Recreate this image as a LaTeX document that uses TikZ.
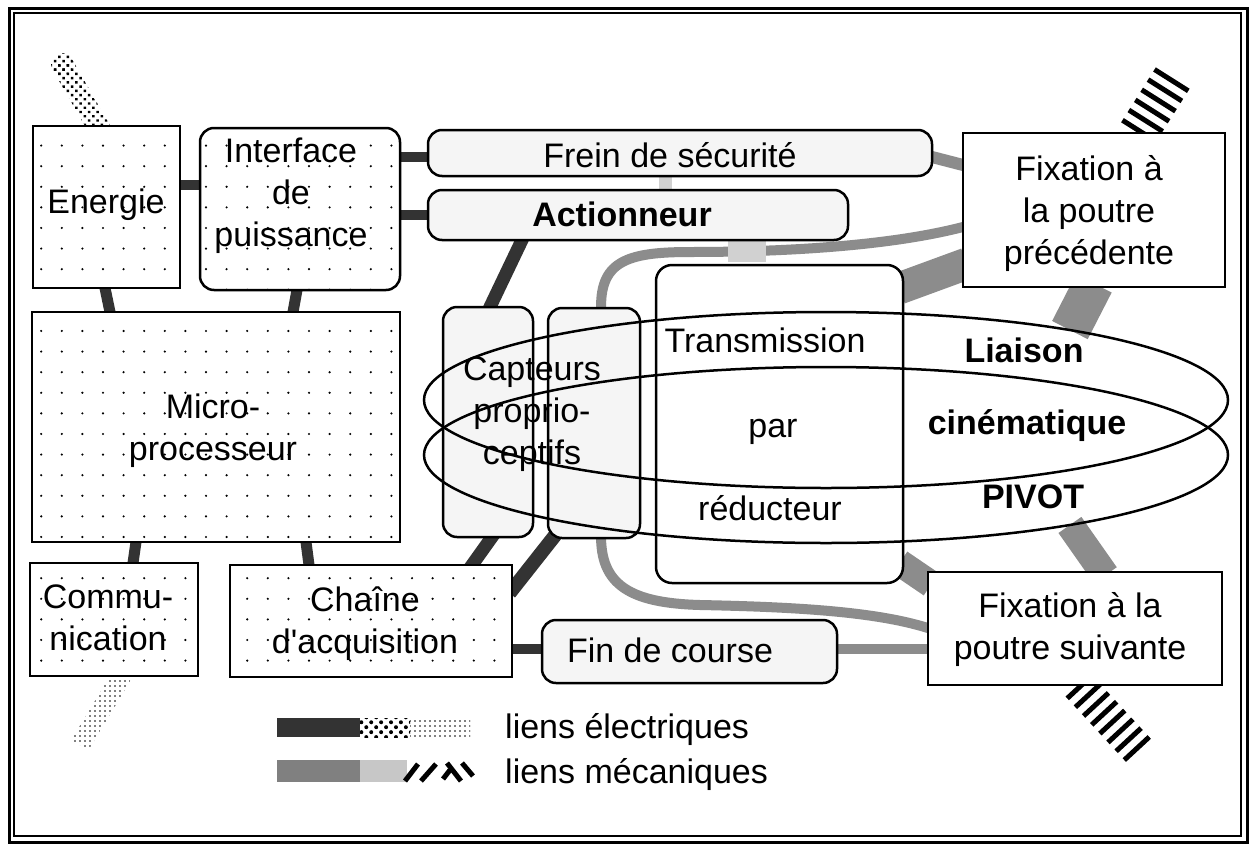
\documentclass[tikz,border=0pt]{standalone}
\usepackage{fontspec}
\setmainfont{Liberation Sans}
\usetikzlibrary{calc,shapes.geometric,patterns.meta,backgrounds}
\newcommand{\bandfill}[4]{\fill[#4] ($(#1)!#3!90:(#2)$) -- ($(#2)!#3!-90:(#1)$) -- ($(#2)!#3!90:(#1)$) -- ($(#1)!#3!-90:(#2)$) -- cycle;}
\begin{document}
\begin{tikzpicture}[x=1pt,y=-1pt,
  sqbox/.style={draw, line width=2.5pt, inner sep=0pt, outer sep=0pt, preaction={fill=white}, pattern={Dots[distance=20.6pt,radius=1.2pt]}},
  lbox/.style={draw, line width=2.5pt, rounded corners=14pt, fill=black!4, inner sep=0pt, outer sep=0pt},
  fbox/.style={draw, line width=2.5pt, fill=white, inner sep=0pt, outer sep=0pt},
  txt/.style={font=\fontsize{34}{42}\selectfont, align=center, inner sep=0pt},
  btxt/.style={txt, font=\fontsize{34}{42}\selectfont\bfseries},
  elec/.style={line width=11pt, black!80, shorten <=-4pt, shorten >=-4pt},
  mech/.style={line width=10pt, black!45, shorten <=-4pt, shorten >=-4pt},
  lite/.style={black!18},
  stripes/.style={dash pattern=on 5pt off 7pt, black},
  ell/.style={ellipse, draw, line width=2.5pt, minimum width=804pt, minimum height=176pt, inner sep=0pt, outer sep=0pt}]
\useasboundingbox (0,0) rectangle (1252,846);
% frame
\draw[line width=3pt] (9,8) rectangle (1247,842);
\draw[line width=1.5pt] (14,13) rectangle (1241,836);

% boxes
\node[sqbox, minimum width=147pt, minimum height=162pt] (energie) at (106.5,207) {};
\node[sqbox, rounded corners=14pt, minimum width=200pt, minimum height=162pt] (iface) at (300,209) {};
\node[lbox, minimum width=504pt, minimum height=46pt] (frein) at (680,153) {};
\node[lbox, minimum width=420pt, minimum height=50pt] (act) at (638,215) {};
\node[fbox, minimum width=262pt, minimum height=154pt] (fixp) at (1094,210) {};
\node[sqbox, minimum width=368pt, minimum height=230pt] (micro) at (216,427) {};
\node[lbox, minimum width=90pt, minimum height=230pt] (capt1) at (488,422) {};
\node[lbox, minimum width=92pt, minimum height=230pt] (capt2) at (594,423) {};
\node[fbox, rounded corners=16pt, minimum width=247pt, minimum height=318pt] (trans) at (779.5,424) {};
\node[sqbox, minimum width=168pt, minimum height=113pt] (comm) at (114,619.5) {};
\node[sqbox, minimum width=282pt, minimum height=112pt] (chaine) at (371,621) {};
\node[lbox, minimum width=295pt, minimum height=63pt] (fin) at (689.5,651.5) {};
\node[fbox, minimum width=294pt, minimum height=113pt] (fixs) at (1075,628.5) {};

% ellipses (liaison pivot)
\node[ell] (ellA) at (826,400) {};
\node[ell] (ellB) at (826,455) {};

% links
\begin{pgfonlayer}{background}
\fill[white] (0,0) rectangle (1252,846);
% electrical
\draw[elec, line width=10pt] (energie.east |- 0,185) -- (iface.west |- 0,185);
\draw[elec, line width=10pt] (iface.east |- 0,157) -- (frein.west |- 0,157);
\draw[elec, line width=10pt] (iface.east |- 0,215) -- (act.west |- 0,215);
\draw[elec] (energie.south -| 105,0) -- (micro.north -| 110,0);
\draw[elec] (iface.south -| 297,0) -- (micro.north -| 293,0);
\draw[elec] (micro.south -| 136,0) -- (comm.north -| 133,0);
\draw[elec] (micro.south -| 306,0) -- (chaine.north -| 309,0);
\draw[elec, line width=13pt] (act.south -| 522,0) -- (capt1.north -| 490,0);
\draw[elec, line width=13pt] (capt1.south -| 492,0) -- (chaine.north -| 472,0);
\draw[elec, line width=14pt] (capt2.south -| 553,0) -- (chaine.east |- 0,590);
\draw[elec, line width=10pt] (chaine.east |- 0,649) -- (fin.west |- 0,649);
% mechanical
\draw[mech, line width=12pt] (frein.east |- 0,157) -- (fixp.west |- 0,165);
\draw[mech] (capt2.north -| 601,0) .. controls (599,262) and (625,252) .. (690,252) .. controls (800,252) and (900,244) .. (fixp.west |- 0,227);
\draw[mech, line width=32pt] (trans.east |- 0,287) -- (fixp.west |- 0,265);
\draw[mech, line width=40pt, shorten >=0pt] (fixp.south -| 1092,0) -- (ellA.16);
\draw[mech, line width=27pt] (trans.east |- 0,565) -- (fixs.west |- 0,582);
\draw[mech, line width=28pt, shorten <=0pt] (ellB.-16) -- (fixs.north -| 1103,0);
\draw[mech] (capt2.south -| 601,0) .. controls (600,585) and (630,603) .. (700,605) .. controls (800,607) and (880,612) .. (fixs.west |- 0,628);
\draw[mech] (fin.east |- 0,649) -- (fixs.west |- 0,649);
% light mechanical
\draw[lite, line width=13pt] (frein.south -| 665,0) -- (act.north -| 665,0);
\draw[lite, line width=38pt] (act.south -| 747,0) -- (747,262);
% striped mechanical
\draw[stripes, line width=40pt] (fixp.north -| 1138,0) -- (1174,76);
\draw[stripes, line width=34pt] (fixs.south -| 1078,0) -- (1140,752);
% patterned electrical
\bandfill{62,64}{100,130}{11pt}{pattern={Dots[distance=6pt,radius=1.7pt,angle=45]}}
\fill[pattern={Dots[distance=6pt,radius=1.7pt,angle=45]}] (62,64) circle (11pt);
\bandfill{124,672}{80,745}{10pt}{pattern={Dots[distance=5pt,radius=0.9pt]}}
\end{pgfonlayer}

% texts
\node[txt] (energieT) at (106,205) {Energie};
\node[txt] (ifaceT) at (291,196) {Interface\\de\\puissance};
\node[txt] (freinT) at (670,155) {Frein de sécurité};
\node[btxt] (actT) at (622,214) {Actionneur};
\node[txt] (fixpT) at (1089,214) {Fixation à\\la poutre\\précédente};
\node[txt] (microT) at (213,431) {Micro-\\processeur};
\node[txt] (captT) at (532,414) {Capteurs\\proprio-\\ceptifs};
\node[txt] (transT1) at (765,340) {Transmission};
\node[txt] (transT2) at (773,432) {par};
\node[txt] (transT3) at (770,508) {réducteur};
\node[btxt] (liaisonT1) at (1024,350) {Liaison};
\node[btxt] (liaisonT2) at (1027,426) {cinématique};
\node[btxt] (liaisonT3) at (1033,497) {PIVOT};
\node[txt] (commT) at (108,618) {Commu-\\nication};
\node[txt] (chaineT) at (365,624) {Chaîne\\d\textquotesingle acquisition};
\node[txt] (finT) at (670,650) {Fin de course};
\node[txt] (fixsT) at (1070,629) {Fixation à la\\poutre suivante};

% legend
\fill[black!80] (277,718) rectangle (360,737);
\fill[pattern={Dots[distance=7pt,radius=2pt,angle=45]}] (360,718) rectangle (410,737);
\fill[pattern={Dots[distance=5pt,radius=0.9pt]}] (410,718) rectangle (470,737);
\fill[black!50] (277,760) rectangle (360,782);
\fill[black!22] (360,760) rectangle (407,782);
\begin{scope}[line width=5pt, black]
\draw (405,781) -- (418,764);
\draw (421,781) -- (436,764);
\draw (443,779) -- (450,770);
\draw (447,763) -- (461,781);
\draw (462,763) -- (473,776);
\end{scope}
\node[txt, anchor=base west] (legE) at (505,738) {liens électriques};
\node[txt, anchor=base west] (legM) at (505,783) {liens mécaniques};
\end{tikzpicture}
\end{document}
